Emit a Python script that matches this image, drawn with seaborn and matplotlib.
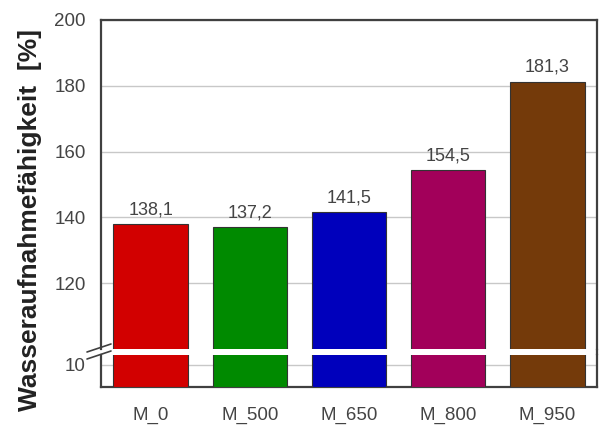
import matplotlib
matplotlib.use("Agg")
import matplotlib.pyplot as plt
import seaborn as sns
import pandas as pd
from matplotlib.lines import Line2D

categories = ["M_0", "M_500", "M_650", "M_800", "M_950"]
values = [138.1, 137.2, 141.5, 154.5, 181.3]
colors = ["#d20000", "#008a00", "#0000bc", "#a2005a", "#743a0a"]
top_ticks = [120, 140, 160, 180, 200]
bottom_ticks = [10]

sns.set_theme(style="white")
plt.rcParams['font.family'] = ['Liberation Sans', 'DejaVu Sans']

df = pd.DataFrame({"cat": categories, "val": values})
fig = plt.figure(figsize=(6.05, 4.28), dpi=100)
ax_top = fig.add_axes([101/605, 1-349/428, 496/605, 329/428])
ax_bot = fig.add_axes([101/605, 1-387/428, 496/605, 32/428])

spine_c = "#404040"
tick_c = "#444444"
for ax in (ax_top, ax_bot):
    sns.barplot(data=df, x="cat", y="val", hue="cat", palette=colors, legend=False,
                saturation=1, width=0.75, edgecolor="#333333", linewidth=0.8,
                ax=ax, zorder=3)
    ax.set_xlim(-0.5, 4.5)
    ax.set_xlabel("")
    ax.set_ylabel("")
    ax.yaxis.grid(True, color="#c8c8c8", linewidth=1.0, zorder=0)
    ax.set_axisbelow(True)
    ax.tick_params(axis="both", length=0, labelsize=13.5, colors=tick_c)
    ax.tick_params(axis="y", pad=11)
    for s in ax.spines.values():
        s.set_color(spine_c)
        s.set_linewidth(1.6)

ax_top.set_ylim(100, 200)
ax_top.set_yticks(top_ticks)
ax_top.spines["bottom"].set_visible(False)
ax_top.tick_params(axis="x", labelbottom=False)
labels = [f"{v:.1f}".replace(".", ",") for v in values]
for i, c in enumerate(ax_top.containers):
    ax_top.bar_label(c, labels=[labels[i]], padding=4, fontsize=13, color=tick_c)

ax_bot.set_ylim(0, 14.5)
ax_bot.set_yticks(bottom_ticks)
ax_bot.spines["top"].set_visible(False)
ax_bot.tick_params(axis="x", pad=14.5)

fig.text(30/605, 1-220/428, "Wasseraufnahmefähigkeit  [%]", rotation=90,
         ha="center", va="center", fontsize=19, fontweight="bold", color="#222222")

# break marks on left spine and continuous right spine
x0 = 101/605
for yy in (348, 355):
    fig.add_artist(Line2D([x0 - 14/605, x0 + 10/605], [1-(yy+4)/428, 1-(yy-4)/428],
                          color=spine_c, linewidth=1.2, transform=fig.transFigure))
x1 = 597/605
fig.add_artist(Line2D([x1, x1], [1-349/428, 1-355/428], color=spine_c, linewidth=1.6,
                      transform=fig.transFigure))

fig.savefig("out.png", dpi=100)
